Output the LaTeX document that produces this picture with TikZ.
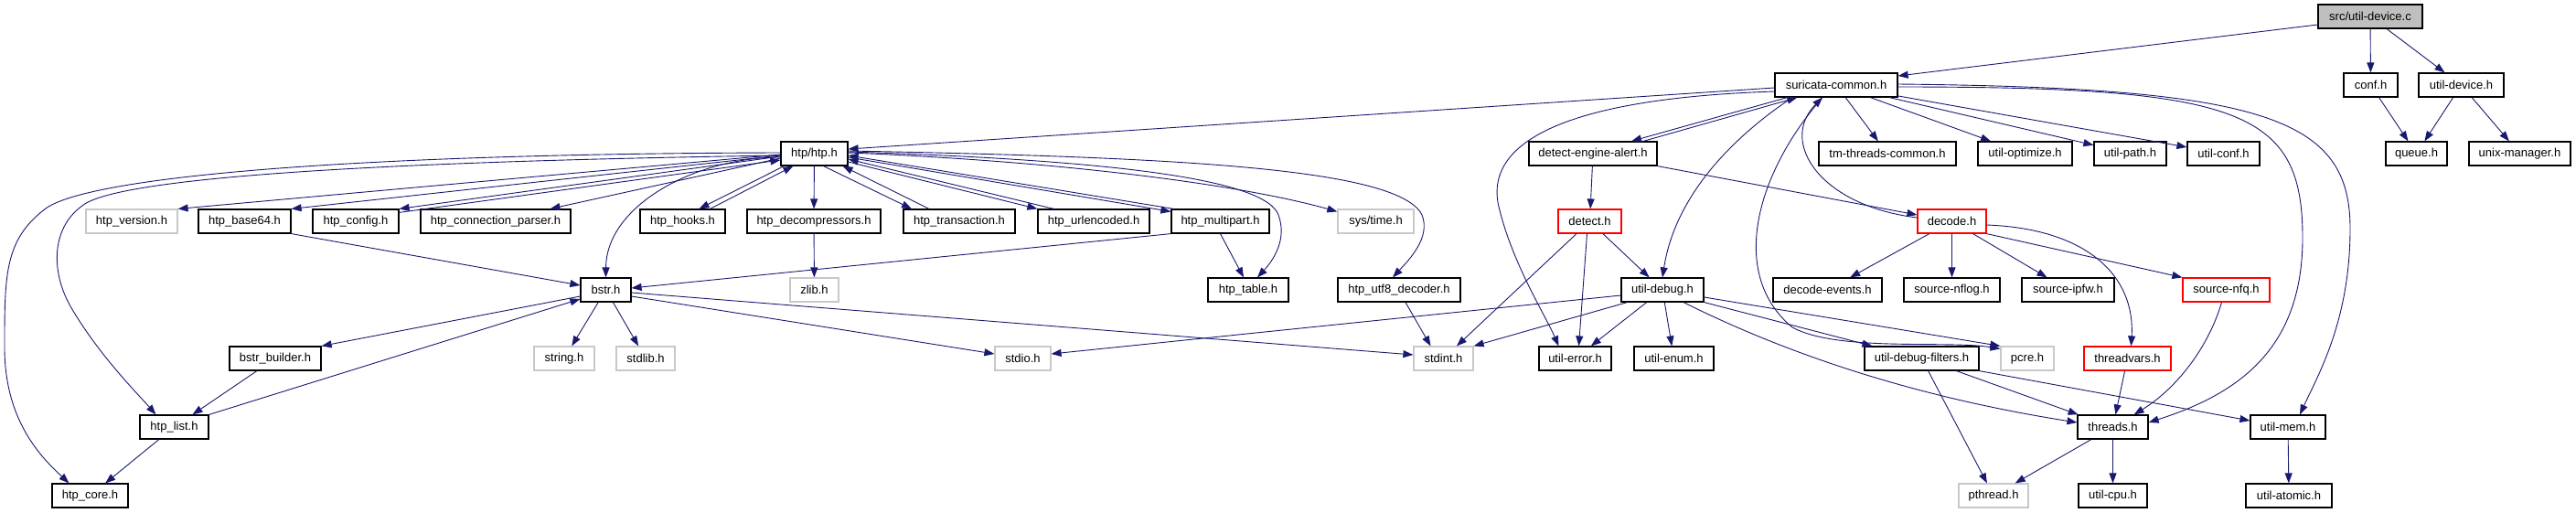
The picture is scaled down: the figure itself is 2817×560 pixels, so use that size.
\documentclass[tikz,border=0pt]{standalone}
\usepackage{fontspec}
\setmainfont{Liberation Sans}
\usetikzlibrary{arrows.meta}
\definecolor{edgec}{HTML}{191970}
\definecolor{rootfill}{HTML}{BFBFBF}
\definecolor{sysborder}{HTML}{C8C8C8}
\newcommand\mynode[6]{\node[#1, minimum width={(#4-#3)*1pt}] (#2) at ({(#3+#4)/2},#5) {#6};}
\begin{document}
\begin{tikzpicture}[x=1pt,y=-1pt,
  box/.style={draw=black, line width=1.2pt, minimum height=26pt, inner sep=0pt, font=\fontsize{13}{15}\selectfont},
  sysbox/.style={box, draw=sysborder},
  redbox/.style={box, draw=red},
  rootbox/.style={box, fill=rootfill},
  e/.style={draw=edgec, line width=0.9pt, -{Triangle[length=11pt,width=8pt]}}]
\useasboundingbox (0,0) rectangle (2817,560);
% row A
\mynode{rootbox}{root}{2535}{2649}{18}{src/util-device.c}
% row B
\mynode{box}{suricata}{1941}{2075}{93}{suricata-common.h}
\mynode{box}{conf}{2563}{2622}{93}{conf.h}
\mynode{box}{utildevice}{2645}{2738}{93}{util-device.h}
% row C
\mynode{box}{htp}{854}{927}{168}{htp/htp.h}
\mynode{box}{dea}{1672}{1812}{168}{detect-engine-alert.h}
\mynode{box}{tmthreads}{1989}{2139}{168}{tm-threads-common.h}
\mynode{box}{utiloptimize}{2163}{2266}{168}{util-optimize.h}
\mynode{box}{utilpath}{2290}{2369}{168}{util-path.h}
\mynode{box}{utilconf}{2392}{2471}{168}{util-conf.h}
\mynode{box}{queue}{2609}{2676}{168}{queue.h}
\mynode{box}{unixmgr}{2700}{2811}{168}{unix-manager.h}
% row D
\mynode{sysbox}{htpversion}{94}{194}{242}{htp\_version.h}
\mynode{box}{htpbase64}{217}{318}{242}{htp\_base64.h}
\mynode{box}{htpconfig}{342}{436}{242}{htp\_config.h}
\mynode{box}{htpconn}{460}{624}{242}{htp\_connection\_parser.h}
\mynode{box}{htphooks}{700}{793}{242}{htp\_hooks.h}
\mynode{box}{htpdecomp}{817}{963}{242}{htp\_decompressors.h}
\mynode{box}{htptrans}{988}{1110}{242}{htp\_transaction.h}
\mynode{box}{htpurl}{1135}{1257}{242}{htp\_urlencoded.h}
\mynode{box}{htpmulti}{1281}{1388}{242}{htp\_multipart.h}
\mynode{sysbox}{systime}{1463}{1546}{242}{sys/time.h}
\mynode{redbox}{detect}{1704}{1773}{242}{detect.h}
\mynode{redbox}{decode}{2097}{2172}{242}{decode.h}
% row E
\mynode{box}{bstr}{635}{690}{317}{bstr.h}
\mynode{sysbox}{zlib}{864}{917}{317}{zlib.h}
\mynode{box}{htptable}{1321}{1409}{317}{htp\_table.h}
\mynode{box}{htputf}{1463}{1597}{317}{htp\_utf8\_decoder.h}
\mynode{box}{utildebug}{1773}{1863}{317}{util-debug.h}
\mynode{box}{decodeevents}{1939}{2058}{317}{decode-events.h}
\mynode{box}{nflog}{2082}{2187}{317}{source-nflog.h}
\mynode{box}{ipfw}{2211}{2312}{317}{source-ipfw.h}
\mynode{redbox}{nfq}{2387}{2482}{317}{source-nfq.h}
% row F
\mynode{box}{bstrbuilder}{251}{351}{392}{bstr\_builder.h}
\mynode{sysbox}{stringh}{584}{650}{392}{string.h}
\mynode{sysbox}{stdlibh}{674}{738}{392}{stdlib.h}
\mynode{sysbox}{stdioh}{1088}{1149}{392}{stdio.h}
\mynode{sysbox}{stdinth}{1546}{1611}{392}{stdint.h}
\mynode{box}{utilerror}{1683}{1762}{392}{util-error.h}
\mynode{box}{utilenum}{1787}{1874}{392}{util-enum.h}
\mynode{box}{debugfilters}{2039}{2164}{392}{util-debug-filters.h}
\mynode{sysbox}{pcre}{2188}{2246}{392}{pcre.h}
\mynode{redbox}{threadvars}{2279}{2374}{392}{threadvars.h}
% row G
\mynode{box}{htplist}{153}{228}{467}{htp\_list.h}
\mynode{box}{threads}{2272}{2349}{467}{threads.h}
\mynode{box}{utilmem}{2461}{2543}{467}{util-mem.h}
% row H
\mynode{box}{htpcore}{57}{140}{542}{htp\_core.h}
\mynode{sysbox}{pthread}{2142}{2218}{542}{pthread.h}
\mynode{box}{utilcpu}{2273}{2348}{542}{util-cpu.h}
\mynode{box}{utilatomic}{2456}{2550}{542}{util-atomic.h}

% ---- edges: root
\draw[e] ([yshift=-9pt]root.west) -- ([yshift=10pt]suricata.east);
\draw[e] (root) -- (conf);
\draw[e] (root) -- (utildevice);
\draw[e] (conf) -- (queue);
\draw[e] (utildevice) -- (queue);
\draw[e] (utildevice) -- (unixmgr);
% suricata-common
\draw[e] ([yshift=-3pt]suricata.west) -- ([yshift=5pt]htp.east);
\draw[e] ([xshift=14pt]suricata.south west) -- ([xshift=42pt]dea.north);
\draw[e] ([xshift=55pt]dea.north) -- ([xshift=25pt]suricata.south west);
\draw[e] (suricata) -- (tmthreads);
\draw[e] (suricata) -- (utiloptimize);
\draw[e] (suricata) -- (utilpath);
\draw[e] (suricata) -- (utilconf);
\draw[e] ([yshift=-2pt]suricata.east) .. controls (2450,95) and (2518,120) .. (2518,260)
   .. controls (2518,380) and (2450,430) .. ([yshift=5pt]threads.east);
\draw[e] ([yshift=1pt]suricata.east) .. controls (2480,96) and (2570,130) .. (2570,250)
   .. controls (2570,350) and (2535,410) .. ([xshift=13pt]utilmem.north);
\draw[e] ([xshift=-48pt]suricata.south) .. controls (1880,160) and (1830,225) .. (utildebug.north);
\draw[e] ([yshift=-7pt]suricata.west) .. controls (1700,108) and (1620,160) .. (1640,230)
   .. controls (1655,290) and (1690,345) .. ([xshift=-18pt]utilerror.north);
\draw[e] ([xshift=-15pt]suricata.south) .. controls (1920,190) and (1890,300) .. (1960,358)
   .. controls (2010,385) and (2130,372) .. ([yshift=-3pt]pcre.north west);
\draw[e] ([yshift=4pt]decode.west) .. controls (1990,225) and (1945,155) .. ([xshift=-15pt]suricata.south);
% detect-engine-alert / detect
\draw[e] (dea) -- (detect);
\draw[e] (dea.south east) -- ([yshift=7pt]decode.west);
\draw[e] (detect) -- (stdinth);
\draw[e] ([xshift=-3pt]detect.south) -- ([xshift=4pt]utilerror.north);
\draw[e] (detect) -- (utildebug);
% decode
\draw[e] (decode) -- (decodeevents);
\draw[e] (decode) -- (nflog);
\draw[e] (decode) -- (ipfw);
\draw[e] (decode.south east) -- (nfq.north west);
\draw[e] ([yshift=-4pt]decode.east) .. controls (2280,250) and (2335,300) .. ([xshift=4pt]threadvars.north);
\draw[e] ([xshift=-5pt]nfq.south) .. controls (2415,380) and (2380,425) .. ([xshift=-16pt]threads.north east);
\draw[e] (threadvars) -- (threads);
% util-debug
\draw[e] ([yshift=-6pt]utildebug.west) -- ([yshift=5pt]stdioh.east);
\draw[e] ([xshift=7pt]utildebug.south west) -- (stdinth.north east);
\draw[e] (utildebug) -- (utilerror);
\draw[e] (utildebug) -- (utilenum);
\draw[e] ([xshift=23pt]utildebug.south) .. controls (1960,390) and (2100,435) .. ([yshift=5pt]threads.west);
\draw[e] (utildebug.south east) -- ([xshift=9pt]debugfilters.north west);
\draw[e] ([yshift=-8pt]utildebug.east) -- (pcre.north west);
% util-debug-filters, threads, util-mem
\draw[e] (debugfilters) -- (threads);
\draw[e] (debugfilters) -- (pthread);
\draw[e] (debugfilters.south east) -- ([yshift=7pt]utilmem.west);
\draw[e] (threads) -- (pthread);
\draw[e] (threads) -- (utilcpu);
\draw[e] (utilmem) -- (utilatomic);
% htp/htp.h
\draw[e] ([yshift=-1pt]htp.west) -- (htpversion.north east);
\draw[e] ([yshift=-2pt]htp.west) -- (htpbase64.north east);
\draw[e] ([yshift=-3pt]htp.west) -- (htpconfig.north east);
\draw[e] ([yshift=-4pt]htpconfig.north east) -- ([yshift=-7pt]htp.west);
\draw[e] ([yshift=-5pt]htp.west) -- ([xshift=-23pt]htpconn.north east);
\draw[e] ([xshift=4pt]htp.south west) -- ([xshift=18pt]htphooks.north);
\draw[e] ([xshift=30pt]htphooks.north) -- ([xshift=14pt]htp.south west);
\draw[e] (htp) -- (htpdecomp);
\draw[e] ([xshift=10pt]htp.south) -- ([xshift=-52pt]htptrans.north);
\draw[e] ([xshift=-33pt]htptrans.north) -- ([xshift=-6pt]htp.south east);
\draw[e] ([yshift=-9pt]htp.east) -- (htpurl.north west);
\draw[e] ([xshift=18pt]htpurl.north west) -- ([yshift=-6pt]htp.east);
\draw[e] ([yshift=-4pt]htp.east) -- ([yshift=-3pt]htpmulti.north west);
\draw[e] ([xshift=3pt]htpmulti.north west) -- ([yshift=-2pt]htp.east);
\draw[e] ([yshift=1pt]htp.east) .. controls (1150,176) and (1350,200) .. ([yshift=-3pt]systime.north west);
\draw[e] ([yshift=2pt]htp.east) .. controls (1250,176) and (1385,200) .. (1398,235)
   .. controls (1408,262) and (1392,285) .. ([xshift=10pt]htptable.north);
\draw[e] ([yshift=3pt]htp.east) .. controls (1300,172) and (1530,185) .. (1555,235)
   .. controls (1565,260) and (1540,285) .. ([xshift=-7pt]htputf.north);
\draw[e] ([yshift=-4pt]htp.west) .. controls (760,172) and (663,225) .. (bstr.north);
\draw[e] ([yshift=-2pt]htp.west) .. controls (450,176) and (130,192) .. (90,225)
   .. controls (55,250) and (55,300) .. (80,340) .. controls (110,390) and (150,430) .. ([xshift=-20pt]htplist.north);
\draw[e] ([yshift=1pt]htp.west) .. controls (400,168) and (100,192) .. (50,228)
   .. controls (5,262) and (5,300) .. (5,380) .. controls (5,460) and (45,500) .. ([xshift=-23pt]htpcore.north);
\draw[e] (htpdecomp) -- (zlib);
\draw[e] (htpbase64.south east) -- ([yshift=5pt]bstr.west);
\draw[e] (htpmulti.south west) -- ([yshift=2pt]bstr.east);
\draw[e] (htpmulti.south) -- ([xshift=-5pt]htptable.north);
\draw[e] ([xshift=7pt]htputf.south) -- ([xshift=-14pt]stdinth.north);
% bstr
\draw[e] (bstr) -- (stringh);
\draw[e] (bstr) -- (stdlibh);
\draw[e] ([yshift=-7pt]bstr.east) -- ([yshift=5pt]stdioh.west);
\draw[e] ([yshift=-3pt]bstr.east) -- ([yshift=4pt]stdinth.west);
\draw[e] ([yshift=-7pt]bstr.west) -- (bstrbuilder.north east);
\draw[e] (htplist.north east) -- ([yshift=-10pt]bstr.west);
\draw[e] (bstrbuilder) -- (htplist);
\draw[e] (htplist) -- (htpcore);
\end{tikzpicture}
\end{document}
